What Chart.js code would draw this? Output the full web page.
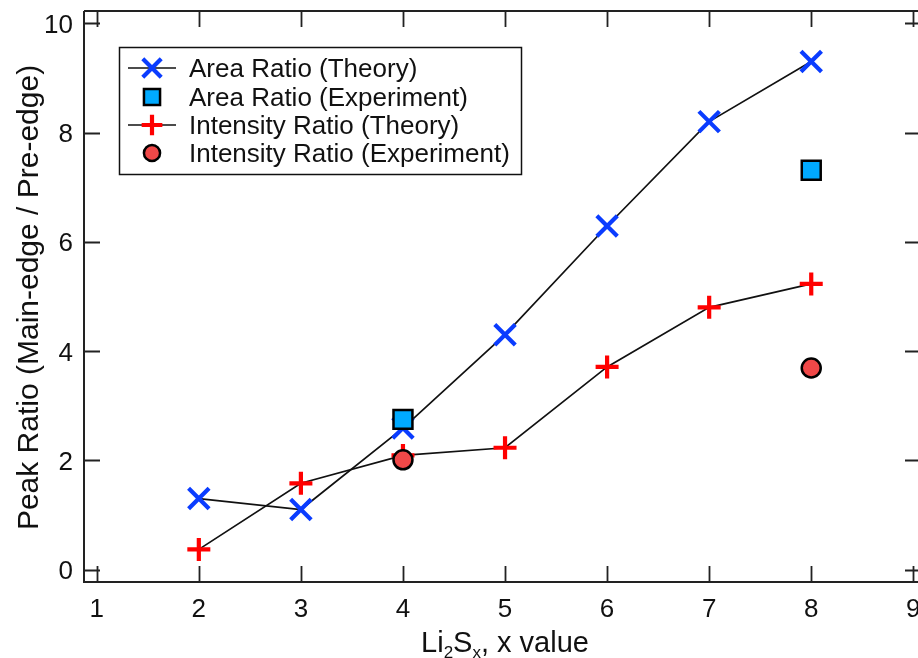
<!DOCTYPE html>
<html lang="en">
<head>
<meta charset="UTF-8" />
<title>Peak Ratio vs Li2Sx</title>
<script src="https://cdn.jsdelivr.net/npm/chart.js"></script>
<style>
  html, body { margin: 0; padding: 0; background: #fff; }
  #grafico { display: block; }
</style>
</head>
<body>
<canvas id="grafico" width="918" height="658"></canvas>
<script>
  // data
  const xValues = [2, 3, 4, 5, 6, 7, 8];
  const areaTheory = [1.30, 1.10, 2.59, 4.30, 6.29, 8.20, 9.30];
  const intensityTheory = [0.37, 1.58, 2.09, 2.23, 3.71, 4.80, 5.23];
  const expX = [4, 8];
  const areaExperiment = [2.75, 7.31];
  const intensityExperiment = [2.01, 3.69];
  const xTicks = [1, 2, 3, 4, 5, 6, 7, 8, 9];
  const yTicks = [0, 2, 4, 6, 8, 10];
  const seriesNames = [
    "Area Ratio (Theory)",
    "Area Ratio (Experiment)",
    "Intensity Ratio (Theory)",
    "Intensity Ratio (Experiment)",
  ];

  const FONT = '"Liberation Sans", Arial, sans-serif';
  const toPoints = (xs, ys) => xs.map((v, i) => ({ x: v, y: ys[i] }));

  const datasets = [
    {
      label: seriesNames[0],
      data: toPoints(xValues, areaTheory),
      showLine: true,
      borderColor: "#111",
      borderWidth: 1.7,
      pointStyle: "crossRot",
      pointRadius: 14.5,
      pointBorderColor: "#0a3cff",
      pointBorderWidth: 4.2,
      order: 3,
    },
    {
      label: seriesNames[1],
      data: toPoints(expX, areaExperiment),
      showLine: false,
      pointStyle: "rect",
      pointRadius: 13.4,
      pointBackgroundColor: "#00aaff",
      pointBorderColor: "#000",
      pointBorderWidth: 2.5,
      order: 1,
    },
    {
      label: seriesNames[2],
      data: toPoints(xValues, intensityTheory),
      showLine: true,
      borderColor: "#111",
      borderWidth: 1.7,
      pointStyle: "cross",
      pointRadius: 11.5,
      pointBorderColor: "#ff0000",
      pointBorderWidth: 4.2,
      order: 2,
    },
    {
      label: seriesNames[3],
      data: toPoints(expX, intensityExperiment),
      showLine: false,
      pointStyle: "circle",
      pointRadius: 9.5,
      pointBackgroundColor: "#f04848",
      pointBorderColor: "#000",
      pointBorderWidth: 2.5,
      order: 0,
    },
  ];

  function drawMarker(ctx, ds, x, y) {
    ctx.save();
    ctx.lineWidth = ds.pointBorderWidth;
    ctx.strokeStyle = ds.pointBorderColor;
    ctx.fillStyle = ds.pointBackgroundColor || "rgba(0,0,0,0)";
    Chart.helpers.drawPoint(ctx, {
      pointStyle: ds.pointStyle,
      radius: ds.pointRadius,
      rotation: 0,
      borderWidth: ds.pointBorderWidth,
    }, x, y);
    ctx.restore();
  }

  // Igor style frame, mirrored ticks, titles and legend
  const moldura = {
    id: "moldura",
    afterDraw(chart) {
      const ctx = chart.ctx;
      const a = chart.chartArea;
      const x = chart.scales.x;
      const y = chart.scales.y;
      ctx.save();
      ctx.strokeStyle = "#222";
      ctx.lineWidth = 2;
      ctx.beginPath();
      ctx.moveTo(a.left, a.top);
      ctx.lineTo(a.right + 4, a.top);
      ctx.moveTo(a.left, a.top);
      ctx.lineTo(a.left, a.bottom);
      ctx.lineTo(a.right + 4, a.bottom);
      ctx.stroke();

      ctx.lineWidth = 1.8;
      ctx.beginPath();
      xTicks.forEach((v) => {
        const px = Math.round(x.getPixelForValue(v)) + 0.5;
        ctx.moveTo(px, a.bottom);
        ctx.lineTo(px, a.bottom - 16);
        ctx.moveTo(px, a.top);
        ctx.lineTo(px, a.top + 16);
      });
      yTicks.forEach((v) => {
        const py = Math.round(y.getPixelForValue(v)) + 0.5;
        ctx.moveTo(a.left, py);
        ctx.lineTo(a.left + 16, py);
        ctx.moveTo(a.right + 3, py);
        ctx.lineTo(a.right - 13, py);
      });
      ctx.stroke();

      // tick labels
      ctx.fillStyle = "#111";
      ctx.font = "26px " + FONT;
      ctx.textBaseline = "alphabetic";
      ctx.textAlign = "center";
      xTicks.forEach((v) => ctx.fillText(String(v), x.getPixelForValue(v), a.bottom + 35));
      ctx.textAlign = "right";
      yTicks.forEach((v) => ctx.fillText(String(v), a.left - 11, y.getPixelForValue(v) + 9.5));

      // x title with subscripts: Li2Sx, x value
      const parts = [
        ["Li", 0], ["2", 1], ["S", 0], ["x", 1], [", x value", 0],
      ];
      const big = "29px " + FONT;
      const small = "17px " + FONT;
      let total = 0;
      parts.forEach((p) => {
        ctx.font = p[1] ? small : big;
        total += ctx.measureText(p[0]).width;
      });
      let cx = (a.left + a.right) / 2 + 4 - total / 2;
      const base = 652;
      ctx.textAlign = "left";
      parts.forEach((p) => {
        ctx.font = p[1] ? small : big;
        ctx.fillText(p[0], cx, base + (p[1] ? 6 : 0));
        cx += ctx.measureText(p[0]).width;
      });

      // y title
      ctx.save();
      ctx.translate(38, (a.top + a.bottom) / 2 + 1);
      ctx.rotate(-Math.PI / 2);
      ctx.font = "30px " + FONT;
      ctx.textAlign = "center";
      ctx.fillText("Peak Ratio (Main-edge / Pre-edge)", 0, 0);
      ctx.restore();

      // legend
      ctx.fillStyle = "#fff";
      ctx.fillRect(119, 47, 403, 128);
      ctx.strokeStyle = "#111";
      ctx.lineWidth = 1.5;
      ctx.strokeRect(119.5, 47.5, 402, 127);
      const rows = [68, 97, 125, 153];
      ctx.font = "26px " + FONT;
      ctx.textAlign = "left";
      datasets.forEach((ds, i) => {
        const ry = rows[i];
        if (ds.showLine) {
          ctx.strokeStyle = ds.borderColor;
          ctx.lineWidth = ds.borderWidth;
          ctx.beginPath();
          ctx.moveTo(128, ry);
          ctx.lineTo(176, ry);
          ctx.stroke();
        }
        const scale = ds.showLine ? 0.9 : 0.85;
        drawMarker(ctx, Object.assign({}, ds, { pointRadius: ds.pointRadius * scale }), 152, ry);
        ctx.fillStyle = "#111";
        ctx.fillText(ds.label, 189, ry + 9);
      });
      ctx.restore();
    },
  };

  const ctx = document.getElementById("grafico").getContext("2d");
  window.grafico = new Chart(ctx, {
    type: "scatter",
    data: { datasets: datasets },
    options: {
      responsive: false,
      animation: false,
      events: [],
      layout: { autoPadding: false, padding: { left: 84, top: 11, right: 0, bottom: 76 } },
      elements: { line: { tension: 0 } },
      plugins: { legend: { display: false }, tooltip: { enabled: false } },
      scales: {
        x: { type: "linear", min: 0.875, max: 9.046, display: false },
        y: { type: "linear", min: -0.227, max: 10.225, display: false },
      },
    },
    plugins: [moldura],
  });
</script>
</body>
</html>
